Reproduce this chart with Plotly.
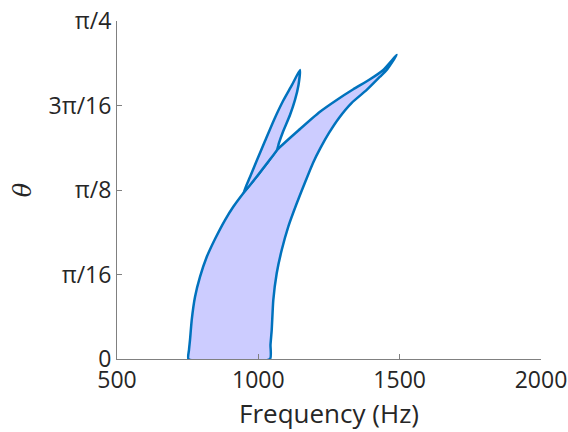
import math
import plotly.graph_objects as go

# Outer stability region (theta stored in units of pi).
# Left edge, from theta = 0 up to the junction near pi/8
left_f = [752.9, 754.7, 758.3, 764.3, 775.9, 793.6, 817.3, 848.5, 882.1, 911.4, 946.8]
left_t = [0.0, 0.0067, 0.0141, 0.0288, 0.0459, 0.0607, 0.0754, 0.0895, 0.1028, 0.1126, 0.1226]

# Upper edge, from the junction to the tip
upper_f = [998.8, 1034.2, 1066.0, 1147.4, 1218.2, 1277.3, 1336.0, 1395.0, 1442.1, 1489.5]
upper_t = [0.1361, 0.1457, 0.1546, 0.1701, 0.1829, 0.1916, 0.1995, 0.2069, 0.2138, 0.2249]

# Right edge, from the tip back down to theta = 0
right_f = [1454.1, 1430.4, 1383.4, 1329.6, 1285.4, 1250.0, 1219.9, 1193.4, 1168.6, 1135.0,
           1106.0, 1082.7, 1065.0, 1052.9, 1047.3, 1043.0, 1041.3]
right_t = [0.2138, 0.2088, 0.1990, 0.1893, 0.1783, 0.1672, 0.1561, 0.1450, 0.1324, 0.1146,
           0.0979, 0.0806, 0.0634, 0.0436, 0.0214, 0.0104, 0.0]

# Narrow lobe branching off at the junction
lobe_left_f = [946.8, 970.5, 995.3, 1023.6, 1055.4, 1087.3, 1119.1, 1147.4]
lobe_left_t = [0.1226, 0.1346, 0.1472, 0.1612, 0.1768, 0.1908, 0.2027, 0.2138]
lobe_right_f = [1142.1, 1129.7, 1112.0, 1088.3, 1073.1, 1066.0, 1034.2, 998.8, 946.8]
lobe_right_t = [0.2027, 0.1916, 0.1805, 0.1686, 0.1598, 0.1546, 0.1457, 0.1361, 0.1226]

tick_vals = [0, 1 / 16, 1 / 8, 3 / 16, 1 / 4]
tick_text = ["0", "π/16", "π/8", "3π/16", "π/4"]

FILL = "rgb(204,204,255)"
EDGE = "#0072BD"


def to_rad(ts):
    return [t * math.pi for t in ts]


big_x = left_f + upper_f + right_f + [left_f[0]]
big_y = to_rad(left_t + upper_t + right_t + [left_t[0]])

lobe_x = lobe_left_f + lobe_right_f
lobe_y = to_rad(lobe_left_t + lobe_right_t)

line = dict(color=EDGE, width=2.5, shape="spline", smoothing=0.5)

fig = go.Figure()
fig.add_trace(go.Scatter(x=big_x, y=big_y, mode="lines", fill="toself",
                         fillcolor=FILL, line=line, hoverinfo="skip", showlegend=False))
fig.add_trace(go.Scatter(x=lobe_x, y=lobe_y, mode="lines", fill="toself",
                         fillcolor=FILL, line=line, hoverinfo="skip", showlegend=False))

FONT = "Open Sans, Noto Sans, sans-serif"
axis_common = dict(showgrid=False, zeroline=False, showline=True, automargin=False,
                   linecolor="#808080", linewidth=1, ticks="inside",
                   ticklen=5, tickcolor="#808080")
fig.update_layout(
    width=568, height=432,
    margin=dict(l=117, r=27, t=21, b=73),
    paper_bgcolor="white", plot_bgcolor="white",
    font=dict(family=FONT, size=23, color="#262626"),
    xaxis=dict(range=[500, 2000], tickvals=[500, 1000, 1500, 2000],
               title=dict(text="Frequency (Hz)", font=dict(size=26), standoff=6),
               **axis_common),
    yaxis=dict(range=[0, math.pi / 4], tickvals=to_rad(tick_vals), ticktext=tick_text,
               title=dict(text="<i>θ</i>", font=dict(size=24, family="DejaVu Serif"),
                          standoff=10),
               **axis_common),
)

fig.write_html("out.html")
